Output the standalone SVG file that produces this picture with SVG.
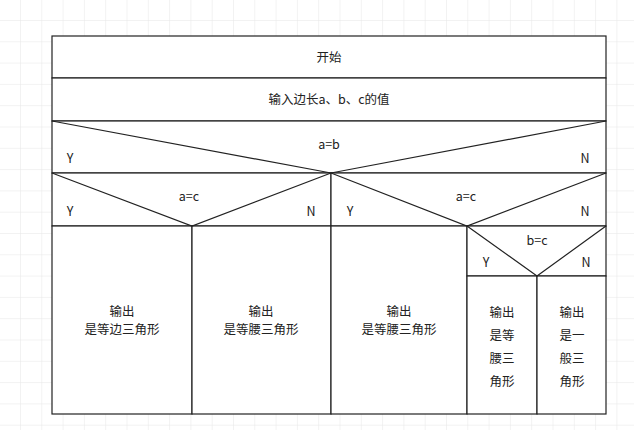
<svg xmlns="http://www.w3.org/2000/svg" width="634" height="430" viewBox="0 0 634 430">
<defs>
<pattern id="grid" x="20" y="20" width="21.3" height="21.3" patternUnits="userSpaceOnUse">
<path d="M0 0H21.3M0 0V21.3" fill="none" stroke="#e6e6e6" stroke-width="1"/>
</pattern>
<style>
.b{fill:#fff;stroke:#222;stroke-width:1.2}
.l{stroke:#222;stroke-width:1.2;fill:none}
text{font-family:"Noto Sans CJK SC","Liberation Sans",sans-serif;font-size:12.5px;fill:#222;text-anchor:middle}
</style>
</defs>
<rect width="634" height="430" fill="#fff"/>
<rect width="634" height="430" fill="url(#grid)"/>
<g id="start"><rect class="b" x="52" y="36" width="554" height="42"/><text x="329" y="62">开始</text></g>
<g id="input"><rect class="b" x="52" y="78" width="554" height="43"/><text x="329" y="104">输入边长a、b、c的值</text></g>
<g id="cond_ab"><rect class="b" x="52" y="121" width="554" height="52"/><text x="329" y="149">a=b</text><text x="70" y="163">Y</text><text x="585" y="163">N</text></g>
<g id="cond_ac1"><rect class="b" x="52" y="173" width="279" height="53"/><text x="189" y="201">a=c</text><text x="70" y="216">Y</text><text x="311" y="216">N</text></g>
<g id="cond_ac2"><rect class="b" x="331" y="173" width="275" height="53"/><text x="466" y="201">a=c</text><text x="350" y="216">Y</text><text x="585" y="216">N</text></g>
<g id="out1"><rect class="b" x="52" y="226" width="140" height="188"/><text x="122" y="316">输出</text><text x="122" y="334">是等边三角形</text></g>
<g id="out2"><rect class="b" x="192" y="226" width="139" height="188"/><text x="261" y="316">输出</text><text x="261" y="334">是等腰三角形</text></g>
<g id="out3"><rect class="b" x="331" y="226" width="136" height="188"/><text x="399" y="316">输出</text><text x="399" y="334">是等腰三角形</text></g>
<g id="cond_bc"><rect class="b" x="467" y="226" width="139" height="50"/><text x="537" y="245">b=c</text><text x="486" y="267">Y</text><text x="586" y="267">N</text></g>
<g id="out4"><rect class="b" x="467" y="276" width="70" height="138"/><text x="502" y="317">输出</text><text x="502" y="340">是等</text><text x="502" y="363">腰三</text><text x="502" y="386">角形</text></g>
<g id="out5"><rect class="b" x="537" y="276" width="69" height="138"/><text x="572" y="317">输出</text><text x="572" y="340">是一</text><text x="572" y="363">般三</text><text x="572" y="386">角形</text></g>
<g id="connectors">
<path class="l" d="M52 121L331 173L606 121"/>
<path class="l" d="M52 173L192 226L331 173"/>
<path class="l" d="M331 173L467 226L606 173"/>
<path class="l" d="M467 226L537 276L606 226"/>
</g>
</svg>
